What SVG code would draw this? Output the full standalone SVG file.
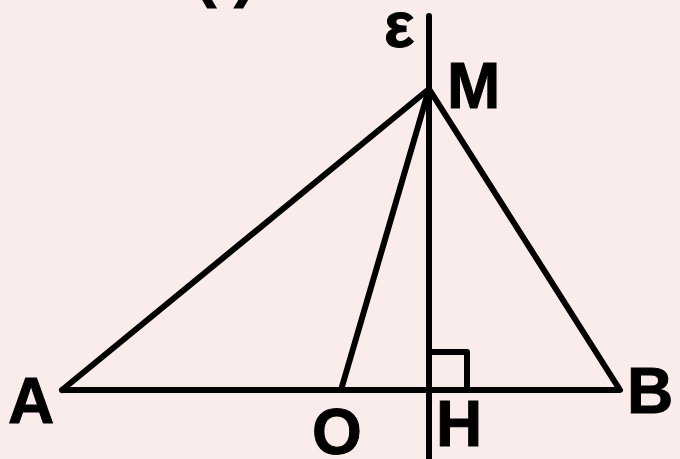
<svg xmlns="http://www.w3.org/2000/svg" width="680" height="459" viewBox="0 0 680 459">
<style>
.ln{stroke:#000;stroke-width:6;fill:none;stroke-linecap:round;stroke-linejoin:round}
.lb{font-family:"Liberation Sans",Arial,sans-serif;font-weight:bold;font-size:64px;fill:#000;stroke:#000;stroke-width:1}
</style>
<rect width="680" height="459" fill="#f9eceb"/>
<text class="lb" x="195" y="-5">( )</text>
<g id="connectors">
<line class="ln" x1="429" y1="16" x2="429" y2="462"/>
<polyline class="ln" points="62,390 429,89 620,390 62,390"/>
<line class="ln" x1="341" y1="390" x2="429" y2="89"/>
<polyline class="ln" points="429,352 467,352 467,390"/>
</g>
<g id="eps"><text class="lb" x="384" y="47">ε</text></g>
<g id="M"><text class="lb" x="447" y="108">M</text></g>
<g id="A"><text class="lb" x="8" y="423">A</text></g>
<g id="O"><text class="lb" x="312" y="454">O</text></g>
<g id="H"><text class="lb" x="436" y="446">H</text></g>
<g id="B"><text class="lb" x="627" y="413">B</text></g>
</svg>
